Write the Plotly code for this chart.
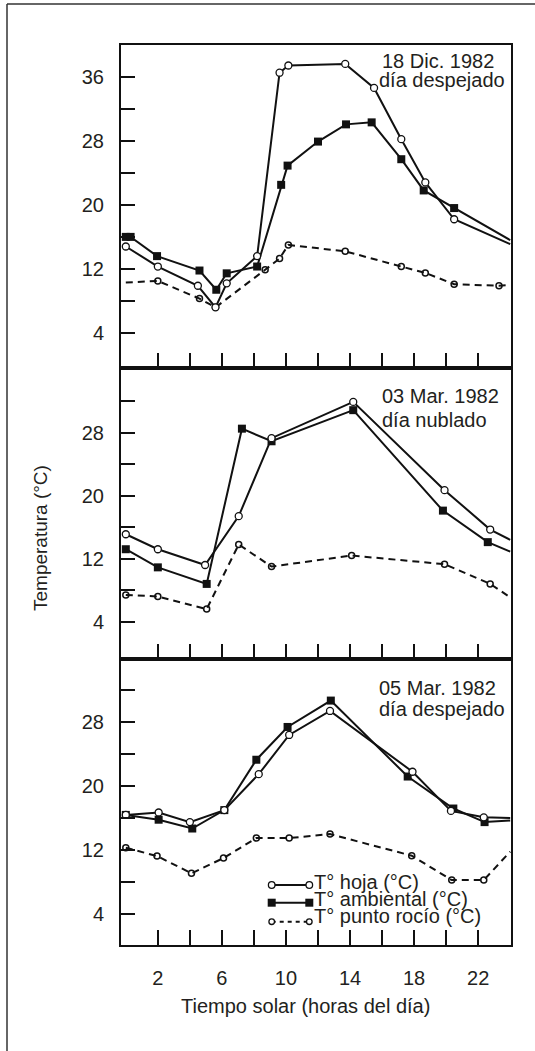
import plotly.graph_objects as go

# ---------------- data ----------------
# Panel 1: 18 Dic. 1982, día despejado
hours_leaf_dec = [0, 2, 4.5, 5.6, 6.3, 8.2, 9.6, 10.15, 13.7, 15.5, 17.2, 18.7, 20.5, 24]
leaf_dec = [14.8, 12.3, 9.9, 7.2, 10.2, 13.6, 36.5, 37.4, 37.6, 34.6, 28.2, 22.8, 18.2, 15.1]
hours_amb_dec = [0, 0.3, 1.95, 4.6, 5.65, 6.3, 8.2, 9.7, 10.1, 12.0, 13.75, 15.35, 17.2, 18.6, 20.5, 24]
amb_dec = [16.0, 16.0, 13.6, 11.8, 9.4, 11.45, 12.3, 22.5, 24.9, 27.9, 30.05, 30.3, 25.7, 21.8, 19.6, 15.6]
hours_dew_dec = [0, 2, 4.6, 5.6, 8.7, 9.6, 10.15, 13.7, 17.2, 18.7, 20.5, 23.3, 24]
dew_dec = [10.3, 10.5, 8.3, 7.2, 11.9, 13.3, 15.0, 14.2, 12.3, 11.5, 10.1, 9.9, 10.0]

# Panel 2: 03 Mar. 1982, día nublado
hours_leaf_mar3 = [0, 2, 4.95, 7.05, 9.1, 14.2, 19.9, 22.75, 24]
leaf_mar3 = [15.1, 13.2, 11.2, 17.4, 27.3, 31.9, 20.7, 15.7, 14.4]
hours_amb_mar3 = [0, 2, 5.05, 7.25, 9.1, 14.2, 19.8, 22.6, 24]
amb_mar3 = [13.2, 10.9, 8.8, 28.5, 26.9, 30.85, 18.1, 14.1, 12.9]
hours_dew_mar3 = [0, 2, 5.05, 7.05, 9.1, 14.1, 19.9, 22.75, 24]
dew_mar3 = [7.4, 7.2, 5.6, 13.8, 11.0, 12.4, 11.3, 8.8, 7.1]

# Panel 3: 05 Mar. 1982, día despejado
hours_leaf_mar5 = [0, 2.05, 4.0, 6.15, 8.3, 10.2, 12.75, 17.9, 20.3, 22.35, 24]
leaf_mar5 = [16.4, 16.7, 15.5, 17.0, 21.5, 26.4, 29.4, 21.8, 16.9, 16.1, 16.0]
hours_amb_mar5 = [0, 2.05, 4.15, 6.15, 8.15, 10.1, 12.8, 17.6, 20.45, 22.4, 24]
amb_mar5 = [16.4, 15.8, 14.7, 17.0, 23.3, 27.4, 30.7, 21.2, 17.2, 15.5, 15.7]
hours_dew_mar5 = [0, 1.95, 4.1, 6.1, 8.15, 10.2, 12.75, 17.85, 20.35, 22.35, 24]
dew_mar5 = [12.3, 11.25, 9.1, 11.0, 13.5, 13.5, 14.0, 11.3, 8.25, 8.25, 11.8]

panel_titles = [("18 Dic. 1982", "día despejado"),
                ("03 Mar. 1982", "día nublado"),
                ("05 Mar. 1982", "día despejado")]
series_names = ["T° hoja (°C)", "T° ambiental (°C)", "T° punto rocío (°C)"]

x_tickvals = [2, 4, 6, 8, 10, 12, 14, 16, 18, 20, 22]
x_ticklabels = ["2", "", "6", "", "10", "", "14", "", "18", "", "22"]
y_tickvals_top = [4, 8, 12, 16, 20, 24, 28, 32, 36]
y_ticklabels_top = ["4", "", "12", "", "20", "", "28", "", "36"]
y_tickvals = [4, 8, 12, 16, 20, 24, 28, 32]
y_ticklabels = ["4", "", "12", "", "20", "", "28", ""]

# ---------------- styling / layout ----------------
W, H = 535, 1051
L, R, T, B = 121, 24, 45, 106
PW, PH = W - L - R, H - T - B
FONT = "Liberation Sans, Arial, Helvetica, sans-serif"
TXT = "#231f20"
INK = "#111111"


def px(xp):
    return (xp - L) / PW


def py(yp):
    return (H - B - yp) / PH


fig = go.Figure()

styles = {
    "leaf": dict(mode="lines+markers", line=dict(color=INK, width=2),
                 marker=dict(symbol="circle", color="white", size=7,
                             line=dict(color=INK, width=1.3))),
    "amb": dict(mode="lines+markers", line=dict(color=INK, width=2),
                marker=dict(symbol="square", color=INK, size=8,
                            line=dict(color=INK, width=0))),
    "dew": dict(mode="lines+markers", line=dict(color=INK, width=2, dash="7px,5px"),
                marker=dict(symbol="circle-open", color=INK, size=6,
                            line=dict(color=INK, width=1.5))),
}


def add_series(xs, ys, kind, name, axis, hide_first=False):
    st = styles[kind]
    n = len(xs)
    op = [1.0] * n
    op[-1] = 0.0  # line simply runs out to the axis edge
    if hide_first:
        op[0] = 0.0
    marker = dict(st["marker"])
    marker["opacity"] = op
    fig.add_trace(go.Scatter(
        x=xs, y=ys, name=name, mode=st["mode"], line=st["line"], marker=marker,
        xaxis="x" + ("" if axis == 1 else str(axis)),
        yaxis="y" + ("" if axis == 1 else str(axis)),
        showlegend=False, cliponaxis=False))


add_series(hours_dew_dec, dew_dec, "dew", series_names[2], 1, hide_first=True)
add_series(hours_amb_dec, amb_dec, "amb", series_names[1], 1)
add_series(hours_leaf_dec, leaf_dec, "leaf", series_names[0], 1)
add_series(hours_dew_mar3, dew_mar3, "dew", series_names[2], 2)
add_series(hours_amb_mar3, amb_mar3, "amb", series_names[1], 2)
add_series(hours_leaf_mar3, leaf_mar3, "leaf", series_names[0], 2)
add_series(hours_dew_mar5, dew_mar5, "dew", series_names[2], 3)
add_series(hours_amb_mar5, amb_mar5, "amb", series_names[1], 3)
add_series(hours_leaf_mar5, leaf_mar5, "leaf", series_names[0], 3)

# panel boundaries (pixel rows): 45 | 368 | 659 | 945
b12, b23 = 368, 659
domains = [[py(b12), 1.0], [py(b23), py(b12)], [0.0, py(b23)]]
yranges = [[-0.37, 39.96], [-0.73, 36.2], [0.13, 35.9]]

tickfont = dict(family=FONT, size=20, color=TXT)
layout = dict(
    width=W, height=H,
    margin=dict(l=L, r=R, t=T, b=B, pad=0),
    paper_bgcolor="white", plot_bgcolor="white",
    font=dict(family=FONT, color=TXT),
    showlegend=False,
)
for i in range(3):
    sfx = "" if i == 0 else str(i + 1)
    layout["xaxis" + sfx] = dict(
        domain=[0, 1], anchor="y" + sfx, range=[-0.3, 24.05],
        showline=True, linecolor=INK, linewidth=2, mirror=True,
        ticks="inside", ticklen=15, tickwidth=2, tickcolor=INK,
        tickvals=x_tickvals, ticktext=x_ticklabels,
        showticklabels=(i == 2), tickfont=tickfont, ticklabelstandoff=14,
        showgrid=False, zeroline=False, fixedrange=True)
    layout["yaxis" + sfx] = dict(
        domain=domains[i], anchor="x" + sfx, range=yranges[i],
        showline=True, linecolor=INK, linewidth=2, mirror=True,
        ticks="inside", ticklen=14, tickwidth=2, tickcolor=INK,
        tickvals=y_tickvals_top if i == 0 else y_tickvals,
        ticktext=y_ticklabels_top if i == 0 else y_ticklabels,
        tickfont=tickfont, ticklabelstandoff=11,
        showgrid=False, zeroline=False, fixedrange=True)
fig.update_layout(**layout)

annotations = []
# panel captions
cap_pos = [((380, 61), (377, 80)), ((380, 396), (380, 420)), ((377, 688), (377, 709))]
for (l1, l2), ((x1, y1), (x2, y2)) in zip(panel_titles, cap_pos):
    annotations.append(dict(text=l1, x=px(x1), y=py(y1), xref="paper", yref="paper",
                            xanchor="left", yanchor="middle", showarrow=False,
                            font=dict(family=FONT, size=20, color=TXT)))
    annotations.append(dict(text=l2, x=px(x2), y=py(y2), xref="paper", yref="paper",
                            xanchor="left", yanchor="middle", showarrow=False,
                            font=dict(family=FONT, size=20, color=TXT)))

# axis titles
annotations.append(dict(text="Temperatura (°C)", x=px(40), y=py(538), xref="paper", yref="paper",
                        textangle=-90, xanchor="center", yanchor="middle", showarrow=False,
                        font=dict(family=FONT, size=19, color=TXT)))
annotations.append(dict(text="Tiempo solar (horas del día)", x=px(305), y=py(1006),
                        xref="paper", yref="paper", xanchor="center", yanchor="middle",
                        showarrow=False, font=dict(family=FONT, size=20, color=TXT)))

# key (legend) inside bottom panel
shapes = []
key_rows = [("leaf", 885, 882), ("amb", 902.7, 899), ("dew", 921.7, 916)]
kx0, kx1, ktext = 271.7, 309.3, 312
for (kind, sy, ty), label in zip(key_rows, series_names):
    shapes.append(dict(type="line", xref="paper", yref="paper",
                       x0=px(kx0), x1=px(kx1), y0=py(sy), y1=py(sy),
                       line=dict(color=INK, width=2,
                                 dash="4px,4px" if kind == "dew" else "solid")))
    for cx in (kx0, kx1):
        if kind == "amb":
            r = 4
            shapes.append(dict(type="rect", xref="paper", yref="paper",
                               x0=px(cx - r), x1=px(cx + r), y0=py(sy + r), y1=py(sy - r),
                               fillcolor=INK, line=dict(width=0)))
        else:
            r = 3.3 if kind == "leaf" else 2.8
            shapes.append(dict(type="circle", xref="paper", yref="paper",
                               x0=px(cx - r), x1=px(cx + r), y0=py(sy + r), y1=py(sy - r),
                               fillcolor="white", line=dict(color=INK, width=1.3)))
    annotations.append(dict(text=label, x=px(ktext), y=py(ty), xref="paper", yref="paper",
                            xanchor="left", yanchor="middle", showarrow=False,
                            font=dict(family=FONT, size=20, color=TXT)))

# outer frame (left and top edges, as in the scan)
shapes.append(dict(type="line", xref="paper", yref="paper",
                   x0=px(7), x1=px(7), y0=py(4), y1=py(H),
                   line=dict(color="#333333", width=1.5)))
shapes.append(dict(type="line", xref="paper", yref="paper",
                   x0=px(7), x1=px(W), y0=py(4), y1=py(4),
                   line=dict(color="#333333", width=1.5)))

fig.update_layout(annotations=annotations, shapes=shapes)
fig.write_html("out.html")
